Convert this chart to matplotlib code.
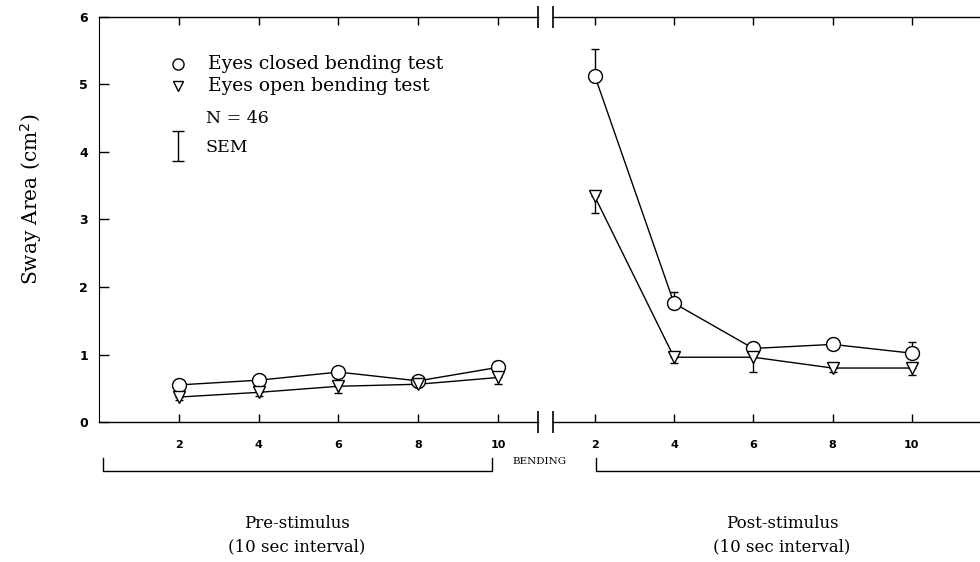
import numpy as np
import matplotlib
matplotlib.use("Agg")
import matplotlib.pyplot as plt

# Bending count (x) for both phases
bending = [2, 4, 6, 8, 10]

# Pre-stimulus sway area (cm^2) and SEM
pre_closed = [0.55, 0.62, 0.74, 0.61, 0.81]
pre_closed_sem = [0.04, 0.04, 0.08, 0.04, 0.09]
pre_open = [0.37, 0.44, 0.53, 0.56, 0.66]
pre_open_sem = [0.04, 0.05, 0.10, 0.04, 0.10]

# Post-stimulus sway area (cm^2) and SEM
post_closed = [5.13, 1.76, 1.09, 1.15, 1.02]
post_closed_sem = [0.40, 0.16, 0.10, 0.08, 0.16]
post_open = [3.34, 0.96, 0.96, 0.80, 0.80]
post_open_sem = [0.25, 0.08, 0.22, 0.06, 0.10]

serif = "DejaVu Serif"

fig = plt.figure(figsize=(9.8, 5.62), dpi=100)
ax1 = fig.add_axes([0.101, 0.249, 0.448, 0.721])
ax2 = fig.add_axes([0.564, 0.249, 0.436, 0.721])


def draw_series(ax, y, sem, marker, up):
    # one-sided error bars: circles go up, triangles go down
    yerr = [np.zeros(len(sem)), sem] if up else [sem, np.zeros(len(sem))]
    ax.errorbar(bending, y, yerr=yerr, fmt="none", ecolor="black",
                elinewidth=1, capsize=3, capthick=1, zorder=2)
    ax.plot(bending, y, color="black", lw=1, zorder=3)
    ax.plot(bending, y, linestyle="none", marker=marker, ms=10 if marker == "o" else 9,
            mfc="white", mec="black", mew=1, zorder=4)


draw_series(ax1, pre_closed, pre_closed_sem, "o", True)
draw_series(ax1, pre_open, pre_open_sem, "v", False)
draw_series(ax2, post_closed, post_closed_sem, "o", True)
draw_series(ax2, post_open, post_open_sem, "v", False)

ax1.set_xlim(0, 11)
ax2.set_xlim(0.94, 11.72)
for ax in (ax1, ax2):
    ax.set_ylim(0, 6)
    ax.set_xticks(bending)
    ax.tick_params(axis="x", direction="in", top=True, length=6, width=1,
                   labelsize=8, pad=13)
    for lab in ax.get_xticklabels():
        lab.set_fontweight("bold")
    ax.spines["right"].set_visible(False)
    ax.spines["top"].set_linewidth(1)
    ax.spines["bottom"].set_linewidth(1)

ax1.set_yticks(range(7))
ax1.tick_params(axis="y", direction="in", length=7, width=1, labelsize=9, pad=8)
for lab in ax1.get_yticklabels():
    lab.set_fontweight("bold")
ax2.spines["left"].set_visible(False)
ax2.tick_params(axis="y", left=False, labelleft=False)

# axis break marks
for ax, xb in ((ax1, 1), (ax2, 0)):
    for yb in (0, 1):
        ax.plot([xb], [yb], marker="|", ms=16, mew=1.2, color="black",
                transform=ax.transAxes, clip_on=False)

ax1.set_ylabel("Sway Area (cm$^2$)", fontsize=14.5, family=serif)
ax1.yaxis.set_label_coords(-0.125, 0.55)

# legend block
t = ax1.transAxes
ax1.plot([0.18], [0.883], marker="o", ms=8, mfc="white", mec="black", transform=t)
ax1.plot([0.18], [0.83], marker="v", ms=7, mfc="white", mec="black", transform=t)
ax1.text(0.248, 0.883, "Eyes closed bending test", transform=t, fontsize=13.5,
         family=serif, va="center")
ax1.text(0.248, 0.83, "Eyes open bending test", transform=t, fontsize=13.5,
         family=serif, va="center")
ax1.text(0.243, 0.748, "N = 46", transform=t, fontsize=12.5, family=serif, va="center")
ax1.errorbar([0.18], [0.6815], yerr=[[0.0365], [0.0365]], fmt="none", ecolor="black",
             elinewidth=1, capsize=4, capthick=1, transform=t)
ax1.text(0.243, 0.677, "SEM", transform=t, fontsize=12.5, family=serif, va="center")

fig.text(0.551, 0.178, "BENDING", fontsize=7.5, family=serif, ha="center", va="center")

# phase brackets
fig.add_artist(plt.Line2D([0.105, 0.105, 0.502, 0.502], [0.185, 0.162, 0.162, 0.185],
                          color="black", lw=1))
fig.add_artist(plt.Line2D([0.608, 0.608, 1.0], [0.185, 0.162, 0.162],
                          color="black", lw=1))
for cx, name in ((0.303, "Pre-stimulus"), (0.798, "Post-stimulus")):
    fig.text(cx, 0.069, name, fontsize=12, family=serif, ha="center", va="center")
    fig.text(cx, 0.027, "(10 sec interval)", fontsize=12, family=serif,
             ha="center", va="center")

fig.savefig("out.png", dpi=100)
